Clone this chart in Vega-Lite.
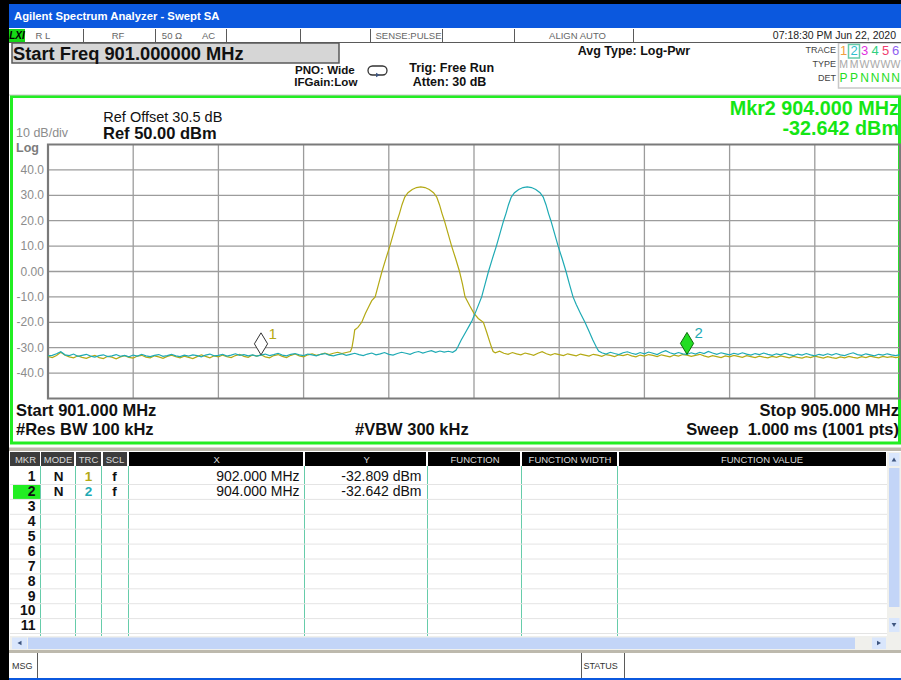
{
"$schema": "https://vega.github.io/schema/vega-lite/v6.json",
"width": 901, "height": 680,
"autosize": {"type": "none"},
"padding": 0,
"background": "#ffffff",
"config": {"view": {"stroke": null}, "text": {"font": "Liberation Sans"}},
"datasets": {
"trace1": [
{"f":901.00,"d":-33.4},{"f":901.02,"d":-33.9},{"f":901.04,"d":-33.1},{"f":901.06,"d":-31.8},{"f":901.08,"d":-33.0},{"f":901.10,"d":-33.6},{"f":901.12,"d":-34.0},{"f":901.14,"d":-33.2},{"f":901.16,"d":-33.8},{"f":901.18,"d":-34.2},
{"f":901.20,"d":-33.5},{"f":901.22,"d":-33.0},{"f":901.24,"d":-33.9},{"f":901.26,"d":-34.3},{"f":901.28,"d":-33.4},{"f":901.30,"d":-33.7},{"f":901.32,"d":-34.4},{"f":901.34,"d":-33.6},{"f":901.36,"d":-33.1},{"f":901.38,"d":-33.8},
{"f":901.40,"d":-34.1},{"f":901.42,"d":-33.3},{"f":901.44,"d":-33.0},{"f":901.46,"d":-33.7},{"f":901.48,"d":-34.0},{"f":901.50,"d":-33.2},{"f":901.52,"d":-33.6},{"f":901.54,"d":-34.2},{"f":901.56,"d":-33.4},{"f":901.58,"d":-32.9},
{"f":901.60,"d":-33.5},{"f":901.62,"d":-34.0},{"f":901.64,"d":-33.3},{"f":901.66,"d":-33.8},{"f":901.68,"d":-34.3},{"f":901.70,"d":-33.5},{"f":901.72,"d":-32.8},{"f":901.74,"d":-33.4},{"f":901.76,"d":-34.0},{"f":901.78,"d":-33.2},
{"f":901.80,"d":-33.6},{"f":901.82,"d":-32.9},{"f":901.84,"d":-33.5},{"f":901.86,"d":-33.9},{"f":901.88,"d":-33.1},{"f":901.90,"d":-32.6},{"f":901.92,"d":-33.4},{"f":901.94,"d":-33.8},{"f":901.96,"d":-32.9},{"f":901.98,"d":-33.3},
{"f":902.00,"d":-32.8},{"f":902.02,"d":-33.6},{"f":902.04,"d":-34.0},{"f":902.06,"d":-33.1},{"f":902.08,"d":-32.7},{"f":902.10,"d":-33.4},{"f":902.12,"d":-33.9},{"f":902.14,"d":-33.0},{"f":902.16,"d":-32.5},{"f":902.18,"d":-33.2},
{"f":902.20,"d":-33.6},{"f":902.22,"d":-32.8},{"f":902.24,"d":-32.4},{"f":902.26,"d":-33.0},{"f":902.28,"d":-32.6},{"f":902.30,"d":-32.1},{"f":902.32,"d":-32.7},{"f":902.34,"d":-32.2},{"f":902.36,"d":-31.8},{"f":902.38,"d":-32.3},
{"f":902.40,"d":-31.9},{"f":902.42,"d":-31.5},
{"f":902.427,"d":-30},{"f":902.435,"d":-26},{"f":902.44,"d":-23},{"f":902.455,"d":-22},{"f":902.473,"d":-20},{"f":902.49,"d":-16.5},{"f":902.505,"d":-14},{"f":902.52,"d":-11.5},{"f":902.536,"d":-10},{"f":902.552,"d":-5},
{"f":902.568,"d":0},{"f":902.586,"d":5},{"f":902.605,"d":10},{"f":902.622,"d":15},{"f":902.639,"d":20},{"f":902.65,"d":22.8},{"f":902.662,"d":26.3},{"f":902.675,"d":29.3},{"f":902.69,"d":31.0},{"f":902.71,"d":32.3},{"f":902.73,"d":33.05},
{"f":902.75,"d":33.3},{"f":902.77,"d":33.05},{"f":902.79,"d":32.3},{"f":902.81,"d":31.0},{"f":902.825,"d":29.3},{"f":902.838,"d":26.3},{"f":902.85,"d":22.8},{"f":902.861,"d":20},{"f":902.878,"d":15},{"f":902.895,"d":10},{"f":902.914,"d":5},
{"f":902.932,"d":0},{"f":902.946,"d":-5},{"f":902.958,"d":-10},{"f":902.98,"d":-13.5},{"f":903.0,"d":-16.5},{"f":903.02,"d":-18.5},{"f":903.044,"d":-20},{"f":903.06,"d":-24},{"f":903.075,"d":-28},{"f":903.083,"d":-30},
{"f":903.09,"d":-31.5},
{"f":903.10,"d":-32.0},{"f":903.12,"d":-31.4},{"f":903.14,"d":-32.2},{"f":903.16,"d":-32.6},{"f":903.18,"d":-31.9},{"f":903.20,"d":-32.4},{"f":903.22,"d":-32.8},{"f":903.24,"d":-32.1},{"f":903.26,"d":-32.5},{"f":903.28,"d":-33.0},
{"f":903.30,"d":-32.2},{"f":903.32,"d":-31.6},{"f":903.34,"d":-32.4},{"f":903.36,"d":-32.9},{"f":903.38,"d":-32.3},{"f":903.40,"d":-32.7},{"f":903.42,"d":-33.1},{"f":903.44,"d":-32.4},{"f":903.46,"d":-32.8},{"f":903.48,"d":-33.2},
{"f":903.50,"d":-32.5},{"f":903.52,"d":-32.9},{"f":903.54,"d":-33.3},{"f":903.56,"d":-32.6},{"f":903.58,"d":-32.9},{"f":903.60,"d":-33.4},{"f":903.62,"d":-32.7},{"f":903.64,"d":-33.0},{"f":903.66,"d":-33.5},{"f":903.68,"d":-32.8},
{"f":903.70,"d":-33.1},{"f":903.72,"d":-32.6},{"f":903.74,"d":-33.2},{"f":903.76,"d":-33.6},{"f":903.78,"d":-32.9},{"f":903.80,"d":-33.3},{"f":903.82,"d":-32.7},{"f":903.84,"d":-33.0},{"f":903.86,"d":-33.5},{"f":903.88,"d":-32.8},
{"f":903.90,"d":-33.2},{"f":903.92,"d":-33.6},{"f":903.94,"d":-32.9},{"f":903.96,"d":-33.3},{"f":903.98,"d":-32.7},{"f":904.00,"d":-32.9},{"f":904.02,"d":-33.4},{"f":904.04,"d":-33.0},{"f":904.06,"d":-32.6},{"f":904.08,"d":-33.2},
{"f":904.10,"d":-33.7},{"f":904.12,"d":-33.1},{"f":904.14,"d":-33.5},{"f":904.16,"d":-33.9},{"f":904.18,"d":-33.2},{"f":904.20,"d":-33.6},{"f":904.22,"d":-33.0},{"f":904.24,"d":-33.4},{"f":904.26,"d":-33.8},{"f":904.28,"d":-33.1},
{"f":904.30,"d":-33.5},{"f":904.32,"d":-33.9},{"f":904.34,"d":-33.3},{"f":904.36,"d":-33.7},{"f":904.38,"d":-34.0},{"f":904.40,"d":-33.4},{"f":904.42,"d":-33.8},{"f":904.44,"d":-33.2},{"f":904.46,"d":-33.6},{"f":904.48,"d":-34.0},
{"f":904.50,"d":-33.4},{"f":904.52,"d":-33.8},{"f":904.54,"d":-34.1},{"f":904.56,"d":-33.5},{"f":904.58,"d":-33.9},{"f":904.60,"d":-33.3},{"f":904.62,"d":-33.7},{"f":904.64,"d":-34.1},{"f":904.66,"d":-33.5},{"f":904.68,"d":-33.9},
{"f":904.70,"d":-34.2},{"f":904.72,"d":-33.6},{"f":904.74,"d":-34.0},{"f":904.76,"d":-33.4},{"f":904.78,"d":-33.8},{"f":904.80,"d":-34.1},{"f":904.82,"d":-33.5},{"f":904.84,"d":-33.9},{"f":904.86,"d":-33.3},{"f":904.88,"d":-33.7},
{"f":904.90,"d":-34.0},{"f":904.92,"d":-33.4},{"f":904.94,"d":-33.8},{"f":904.96,"d":-33.5},{"f":904.98,"d":-33.9},{"f":905.00,"d":-33.6}
],
"trace2": [
{"f":901.00,"d":-33.2},{"f":901.02,"d":-33.0},{"f":901.04,"d":-32.4},{"f":901.06,"d":-31.6},{"f":901.08,"d":-32.8},{"f":901.10,"d":-33.1},{"f":901.12,"d":-32.5},{"f":901.14,"d":-33.4},{"f":901.16,"d":-33.0},{"f":901.18,"d":-32.6},
{"f":901.20,"d":-33.3},{"f":901.22,"d":-33.7},{"f":901.24,"d":-33.1},{"f":901.26,"d":-32.8},{"f":901.28,"d":-33.5},{"f":901.30,"d":-33.2},{"f":901.32,"d":-32.7},{"f":901.34,"d":-33.4},{"f":901.36,"d":-33.0},{"f":901.38,"d":-33.6},
{"f":901.40,"d":-32.9},{"f":901.42,"d":-33.3},{"f":901.44,"d":-32.6},{"f":901.46,"d":-33.2},{"f":901.48,"d":-33.5},{"f":901.50,"d":-33.0},{"f":901.52,"d":-32.7},{"f":901.54,"d":-33.4},{"f":901.56,"d":-33.1},{"f":901.58,"d":-32.6},
{"f":901.60,"d":-33.2},{"f":901.62,"d":-33.5},{"f":901.64,"d":-32.9},{"f":901.66,"d":-33.3},{"f":901.68,"d":-32.8},{"f":901.70,"d":-33.1},{"f":901.72,"d":-33.6},{"f":901.74,"d":-32.9},{"f":901.76,"d":-32.5},{"f":901.78,"d":-33.2},
{"f":901.80,"d":-33.0},{"f":901.82,"d":-32.6},{"f":901.84,"d":-33.3},{"f":901.86,"d":-32.9},{"f":901.88,"d":-32.4},{"f":901.90,"d":-33.0},{"f":901.92,"d":-32.7},{"f":901.94,"d":-33.2},{"f":901.96,"d":-32.8},{"f":901.98,"d":-33.3},
{"f":902.00,"d":-32.9},{"f":902.02,"d":-32.5},{"f":902.04,"d":-33.1},{"f":902.06,"d":-32.7},{"f":902.08,"d":-32.2},{"f":902.10,"d":-32.9},{"f":902.12,"d":-33.2},{"f":902.14,"d":-32.6},{"f":902.16,"d":-32.3},{"f":902.18,"d":-32.8},
{"f":902.20,"d":-33.1},{"f":902.22,"d":-32.5},{"f":902.24,"d":-32.8},{"f":902.26,"d":-33.2},{"f":902.28,"d":-32.6},{"f":902.30,"d":-32.3},{"f":902.32,"d":-32.9},{"f":902.34,"d":-33.2},{"f":902.36,"d":-32.7},{"f":902.38,"d":-32.4},
{"f":902.40,"d":-33.0},{"f":902.42,"d":-32.6},{"f":902.44,"d":-32.2},{"f":902.46,"d":-32.7},{"f":902.48,"d":-33.1},{"f":902.50,"d":-32.5},{"f":902.52,"d":-32.1},{"f":902.54,"d":-32.8},{"f":902.56,"d":-32.4},{"f":902.58,"d":-31.9},
{"f":902.60,"d":-32.6},{"f":902.62,"d":-32.9},{"f":902.64,"d":-32.3},{"f":902.66,"d":-31.8},{"f":902.68,"d":-32.2},{"f":902.70,"d":-32.6},{"f":902.72,"d":-31.9},{"f":902.74,"d":-31.5},{"f":902.76,"d":-32.1},{"f":902.78,"d":-31.6},
{"f":902.80,"d":-31.2},{"f":902.82,"d":-31.8},{"f":902.84,"d":-31.3},{"f":902.86,"d":-31.7},{"f":902.88,"d":-31.4},{"f":902.90,"d":-31.8},{"f":902.915,"d":-31.0},
{"f":902.925,"d":-29.5},{"f":902.94,"d":-27},{"f":902.96,"d":-24},{"f":902.98,"d":-21},{"f":902.99,"d":-19.5},{"f":903.01,"d":-15.5},{"f":903.036,"d":-10},{"f":903.052,"d":-5},{"f":903.068,"d":0},{"f":903.086,"d":5},
{"f":903.105,"d":10},{"f":903.122,"d":15},{"f":903.139,"d":20},{"f":903.15,"d":22.8},{"f":903.162,"d":26.3},{"f":903.175,"d":29.3},{"f":903.19,"d":31.0},{"f":903.21,"d":32.3},{"f":903.23,"d":33.05},{"f":903.25,"d":33.3},{"f":903.27,"d":33.05},
{"f":903.29,"d":32.3},{"f":903.31,"d":31.0},{"f":903.325,"d":29.3},{"f":903.338,"d":26.3},{"f":903.35,"d":22.8},{"f":903.361,"d":20},{"f":903.378,"d":15},{"f":903.395,"d":10},{"f":903.414,"d":5},{"f":903.432,"d":0},{"f":903.448,"d":-5},
{"f":903.465,"d":-10},{"f":903.48,"d":-13},{"f":903.50,"d":-16.5},{"f":903.521,"d":-20},{"f":903.54,"d":-23.5},{"f":903.558,"d":-27},{"f":903.576,"d":-30},{"f":903.585,"d":-31.3},
{"f":903.60,"d":-32.0},{"f":903.62,"d":-32.5},{"f":903.64,"d":-31.8},{"f":903.66,"d":-32.3},{"f":903.68,"d":-32.7},{"f":903.70,"d":-32.0},{"f":903.72,"d":-31.6},{"f":903.74,"d":-32.2},{"f":903.76,"d":-32.6},{"f":903.78,"d":-31.9},
{"f":903.80,"d":-32.4},{"f":903.82,"d":-31.7},{"f":903.84,"d":-32.2},{"f":903.86,"d":-32.7},{"f":903.88,"d":-31.8},{"f":903.90,"d":-31.2},{"f":903.92,"d":-32.0},{"f":903.94,"d":-32.5},{"f":903.96,"d":-31.9},{"f":903.98,"d":-32.4},
{"f":904.00,"d":-32.6},{"f":904.02,"d":-32.0},{"f":904.04,"d":-32.5},{"f":904.06,"d":-31.8},{"f":904.08,"d":-32.3},{"f":904.10,"d":-31.5},{"f":904.12,"d":-32.1},{"f":904.14,"d":-32.6},{"f":904.16,"d":-32.0},{"f":904.18,"d":-32.4},
{"f":904.20,"d":-32.8},{"f":904.22,"d":-32.2},{"f":904.24,"d":-32.6},{"f":904.26,"d":-32.0},{"f":904.28,"d":-32.5},{"f":904.30,"d":-32.9},{"f":904.32,"d":-32.3},{"f":904.34,"d":-32.7},{"f":904.36,"d":-32.1},{"f":904.38,"d":-32.6},
{"f":904.40,"d":-33.0},{"f":904.42,"d":-32.4},{"f":904.44,"d":-32.8},{"f":904.46,"d":-32.2},{"f":904.48,"d":-32.7},{"f":904.50,"d":-33.1},{"f":904.52,"d":-32.5},{"f":904.54,"d":-32.9},{"f":904.56,"d":-32.3},{"f":904.58,"d":-32.8},
{"f":904.60,"d":-33.2},{"f":904.62,"d":-32.6},{"f":904.64,"d":-33.0},{"f":904.66,"d":-32.4},{"f":904.68,"d":-32.9},{"f":904.70,"d":-32.3},{"f":904.72,"d":-32.8},{"f":904.74,"d":-33.1},{"f":904.76,"d":-32.5},{"f":904.78,"d":-32.0},
{"f":904.80,"d":-32.7},{"f":904.82,"d":-33.0},{"f":904.84,"d":-32.4},{"f":904.86,"d":-32.8},{"f":904.88,"d":-33.2},{"f":904.90,"d":-32.6},{"f":904.92,"d":-32.9},{"f":904.94,"d":-32.4},{"f":904.96,"d":-32.8},{"f":904.98,"d":-33.1},{"f":905.00,"d":-32.7}
],
"markers": [
{"mkr":"1","trc":"1","f":902.0,"d":-32.809},
{"mkr":"2","trc":"2","f":904.0,"d":-32.642}
],
"table": [
{"mkr":1,"mode":"N","trc":"1","scl":"f","xval":"902.000 MHz","yval":"-32.809 dBm"},
{"mkr":2,"mode":"N","trc":"2","scl":"f","xval":"904.000 MHz","yval":"-32.642 dBm"},
{"mkr":3},{"mkr":4},{"mkr":5},{"mkr":6},{"mkr":7},{"mkr":8},{"mkr":9},{"mkr":10},{"mkr":11}
],
"boxes": [
{"part":"frame","x0":0,"x1":9,"y0":0,"y1":680},
{"part":"frame","x0":0,"x1":901,"y0":0,"y1":4},
{"part":"title","x0":9,"x1":901,"y0":4,"y1":28},
{"part":"lxi","x0":9,"x1":25,"y0":29,"y1":42},
{"part":"field","x0":12,"x1":339,"y0":43,"y1":63},
{"part":"sep","x0":9,"x1":901,"y0":447.5,"y1":451},
{"part":"head","x0":10,"x1":40,"y0":452,"y1":466},
{"part":"head","x0":41,"x1":74,"y0":452,"y1":466},
{"part":"head","x0":76,"x1":101,"y0":452,"y1":466},
{"part":"head","x0":103,"x1":127,"y0":452,"y1":466},
{"part":"black","x0":129,"x1":303,"y0":452,"y1":466},
{"part":"black","x0":305,"x1":426,"y0":452,"y1":466},
{"part":"black","x0":428,"x1":520,"y0":452,"y1":466},
{"part":"black","x0":522,"x1":617,"y0":452,"y1":466},
{"part":"black","x0":619,"x1":886,"y0":452,"y1":466},
{"part":"active","x0":13,"x1":40,"y0":485,"y1":499},
{"part":"track","x0":10,"x1":887,"y0":636,"y1":650},
{"part":"track","x0":887,"x1":901,"y0":452,"y1":650},
{"part":"thumb","x0":28,"x1":855,"y0":637.5,"y1":649},
{"part":"thumb","x0":889,"x1":899.5,"y0":468,"y1":607},
{"part":"button","x0":12,"x1":27,"y0":637.5,"y1":649},
{"part":"button","x0":872,"x1":886,"y0":637.5,"y1":649},
{"part":"button","x0":889,"x1":899.5,"y0":453,"y1":466},
{"part":"button","x0":889,"x1":899.5,"y0":618,"y1":632},
{"part":"sep","x0":9,"x1":901,"y0":650,"y1":653},
{"part":"title","x0":9,"x1":901,"y0":678,"y1":680}
],
"outlines": [
{"part":"field","x0":12,"x1":339,"y0":43,"y1":63},
{"part":"legend","x0":838.5,"x1":905,"y0":43,"y1":88},
{"part":"sel","x0":848.5,"x1":859.5,"y0":44.5,"y1":58}
],
"lines": [
{"part":"status","x0":83.5,"x1":83.5,"y0":29,"y1":42},
{"part":"status","x0":155.5,"x1":155.5,"y0":29,"y1":42},
{"part":"status","x0":226.5,"x1":226.5,"y0":29,"y1":42},
{"part":"status","x0":300.5,"x1":300.5,"y0":29,"y1":42},
{"part":"status","x0":370.5,"x1":370.5,"y0":29,"y1":42},
{"part":"status","x0":442.5,"x1":442.5,"y0":29,"y1":42},
{"part":"status","x0":514.5,"x1":514.5,"y0":29,"y1":42},
{"part":"status","x0":633.5,"x1":633.5,"y0":29,"y1":42},
{"part":"status","x0":9,"x1":901,"y0":42.5,"y1":42.5},
{"part":"hdr","x0":9,"x1":901,"y0":95,"y1":95},
{"part":"col","x0":40.5,"x1":40.5,"y0":466,"y1":636},
{"part":"col","x0":75.5,"x1":75.5,"y0":466,"y1":636},
{"part":"col","x0":101.5,"x1":101.5,"y0":466,"y1":636},
{"part":"col","x0":128.5,"x1":128.5,"y0":466,"y1":636},
{"part":"col","x0":304.5,"x1":304.5,"y0":466,"y1":636},
{"part":"col","x0":427.5,"x1":427.5,"y0":466,"y1":636},
{"part":"col","x0":521.5,"x1":521.5,"y0":466,"y1":636},
{"part":"col","x0":617.5,"x1":617.5,"y0":466,"y1":636},
{"part":"msg","x0":37.5,"x1":37.5,"y0":653,"y1":678},
{"part":"msg","x0":581.5,"x1":581.5,"y0":653,"y1":678},
{"part":"msg","x0":624.5,"x1":624.5,"y0":653,"y1":678}
]
},
"layer": [
{
"layer": [
{"data": {"name": "boxes"}, "mark": {"type": "rect"},
 "encoding": {
  "x": {"field": "x0", "type": "quantitative", "scale": {"domain": [0, 901], "nice": false, "zero": false}, "axis": null},
  "x2": {"field": "x1"},
  "y": {"field": "y0", "type": "quantitative", "scale": {"domain": [0, 680], "nice": false, "zero": false, "reverse": true}, "axis": null},
  "y2": {"field": "y1"},
  "color": {"field": "part", "type": "nominal", "legend": null,
   "scale": {"domain": ["frame","title","lxi","field","sep","head","black","active","track","thumb","button"],
             "range": ["#000000","#0b58de","#16d816","#d6d6d6","#bdb9ad","#3c3c3c","#000000","#22ee22","#f0f0ec","#c3d5f7","#d9e6fc"]}}
 }},
{"data": {"name": "outlines"}, "mark": {"type": "rect", "filled": false, "strokeWidth": 1.5},
 "encoding": {
  "x": {"field": "x0", "type": "quantitative"}, "x2": {"field": "x1"},
  "y": {"field": "y0", "type": "quantitative"}, "y2": {"field": "y1"},
  "stroke": {"field": "part", "type": "nominal", "legend": null,
   "scale": {"domain": ["field","legend","sel"], "range": ["#5a5a5a","#c8c8c8","#66ccaa"]}}
 }},
{"data": {"values": [{"x0": 11.5, "x1": 899.5, "y0": 96.5, "y1": 443}]},
 "mark": {"type": "rect", "filled": false, "stroke": "#22ee22", "strokeWidth": 3},
 "encoding": {"x": {"field": "x0", "type": "quantitative"}, "x2": {"field": "x1"}, "y": {"field": "y0", "type": "quantitative"}, "y2": {"field": "y1"}}},
{"data": {"values": [{"x0": 368, "x1": 387, "y0": 66, "y1": 75}]},
 "mark": {"type": "rect", "filled": false, "stroke": "#333333", "strokeWidth": 1.3, "cornerRadius": 4.5},
 "encoding": {"x": {"field": "x0", "type": "quantitative"}, "x2": {"field": "x1"}, "y": {"field": "y0", "type": "quantitative"}, "y2": {"field": "y1"}}},
{"data": {"name": "lines"}, "mark": {"type": "rule", "strokeWidth": 1},
 "encoding": {
  "x": {"field": "x0", "type": "quantitative"}, "x2": {"field": "x1"},
  "y": {"field": "y0", "type": "quantitative"}, "y2": {"field": "y1"},
  "stroke": {"field": "part", "type": "nominal", "legend": null,
   "scale": {"domain": ["status","hdr","col","msg"], "range": ["#b0b0b0","#8c8c8c","#e2e2e2","#a8a8a8"]}}
 }},
{"data": {"values": [{"dir": "left", "sx": 19.5, "sy": 643}, {"dir": "right", "sx": 879, "sy": 643}, {"dir": "up", "sx": 894, "sy": 459.5}, {"dir": "down", "sx": 894, "sy": 625}, {"dir": "right", "sx": 378, "sy": 75}]},
 "mark": {"type": "point", "filled": true, "size": 22, "color": "#3f5680", "opacity": 1},
 "encoding": {"x": {"field": "sx", "type": "quantitative"}, "y": {"field": "sy", "type": "quantitative"},
  "shape": {"field": "dir", "type": "nominal", "legend": null, "scale": {"domain": ["left","right","up","down"], "range": ["triangle-left","triangle-right","triangle-up","triangle-down"]}}}},
{"data": {"values": [{"t": "Agilent Spectrum Analyzer - Swept SA", "sx": 14, "sy": 16.5}]},
 "mark": {"type": "text", "align": "left", "baseline": "middle", "fontSize": 11.3, "fontWeight": "bold", "color": "#ffffff"},
 "encoding": {"x": {"field": "sx", "type": "quantitative"}, "y": {"field": "sy", "type": "quantitative"}, "text": {"field": "t"}}},
{"data": {"values": [{"t": "R L", "sx": 43, "sy": 35.5}, {"t": "RF", "sx": 118, "sy": 35.5}, {"t": "50 Ω", "sx": 172, "sy": 35.5}, {"t": "AC", "sx": 208.5, "sy": 35.5}, {"t": "SENSE:PULSE", "sx": 408.5, "sy": 35.5}, {"t": "ALIGN AUTO", "sx": 577.5, "sy": 35.5}]},
 "mark": {"type": "text", "align": "center", "baseline": "middle", "fontSize": 9.5, "color": "#666666"},
 "encoding": {"x": {"field": "sx", "type": "quantitative"}, "y": {"field": "sy", "type": "quantitative"}, "text": {"field": "t"}}},
{"data": {"values": [{"t": "07:18:30 PM Jun 22, 2020", "sx": 896, "sy": 35.5}]},
 "mark": {"type": "text", "align": "right", "baseline": "middle", "fontSize": 10.5, "color": "#222222"},
 "encoding": {"x": {"field": "sx", "type": "quantitative"}, "y": {"field": "sy", "type": "quantitative"}, "text": {"field": "t"}}},
{"data": {"values": [{"t": "LXI", "sx": 17, "sy": 35.5}]},
 "mark": {"type": "text", "align": "center", "baseline": "middle", "fontSize": 10, "fontWeight": "bold", "fontStyle": "italic", "color": "#000000"},
 "encoding": {"x": {"field": "sx", "type": "quantitative"}, "y": {"field": "sy", "type": "quantitative"}, "text": {"field": "t"}}},
{"data": {"values": [{"t": "Start Freq 901.000000 MHz", "sx": 13, "sy": 54.7}]},
 "mark": {"type": "text", "align": "left", "baseline": "middle", "fontSize": 18.3, "fontWeight": "bold", "color": "#111111"},
 "encoding": {"x": {"field": "sx", "type": "quantitative"}, "y": {"field": "sy", "type": "quantitative"}, "text": {"field": "t"}}},
{"data": {"values": [{"t": "PNO: Wide", "sx": 295, "sy": 70.8}, {"t": "IFGain:Low", "sx": 294.3, "sy": 83.2}]},
 "mark": {"type": "text", "align": "left", "baseline": "middle", "fontSize": 11.6, "fontWeight": "bold", "color": "#111111"},
 "encoding": {"x": {"field": "sx", "type": "quantitative"}, "y": {"field": "sy", "type": "quantitative"}, "text": {"field": "t"}}},
{"data": {"values": [{"t": "Trig: Free Run", "sx": 409.3, "sy": 67.5}, {"t": "Atten: 30 dB", "sx": 412.7, "sy": 81.7}, {"t": "Avg Type: Log-Pwr", "sx": 577.7, "sy": 50.8}]},
 "mark": {"type": "text", "align": "left", "baseline": "middle", "fontSize": 12.5, "fontWeight": "bold", "color": "#111111"},
 "encoding": {"x": {"field": "sx", "type": "quantitative"}, "y": {"field": "sy", "type": "quantitative"}, "text": {"field": "t"}}},
{"data": {"values": [{"t": "TRACE", "sx": 836, "sy": 50}, {"t": "TYPE", "sx": 836, "sy": 64}, {"t": "DET", "sx": 836, "sy": 78}]},
 "mark": {"type": "text", "align": "right", "baseline": "middle", "fontSize": 9, "color": "#444444"},
 "encoding": {"x": {"field": "sx", "type": "quantitative"}, "y": {"field": "sy", "type": "quantitative"}, "text": {"field": "t"}}},
{"data": {"values": [{"trace": "1", "sx": 843.5, "sy": 51}, {"trace": "2", "sx": 854, "sy": 51}, {"trace": "3", "sx": 864.5, "sy": 51}, {"trace": "4", "sx": 875, "sy": 51}, {"trace": "5", "sx": 885.5, "sy": 51}, {"trace": "6", "sx": 895.5, "sy": 51}]},
 "mark": {"type": "text", "align": "center", "baseline": "middle", "fontSize": 13},
 "encoding": {"x": {"field": "sx", "type": "quantitative"}, "y": {"field": "sy", "type": "quantitative"}, "text": {"field": "trace"},
  "fill": {"field": "trace", "type": "nominal", "legend": null, "scale": {"domain": ["1","2","3","4","5","6"], "range": ["#f0a040","#30c0d0","#e030e0","#30d080","#f04070","#9060f0"]}}}},
{"data": {"values": [{"t": "M", "sx": 843.5, "sy": 64.5}, {"t": "M", "sx": 854, "sy": 64.5}, {"t": "W", "sx": 864.5, "sy": 64.5}, {"t": "W", "sx": 875, "sy": 64.5}, {"t": "W", "sx": 885.5, "sy": 64.5}, {"t": "W", "sx": 895.5, "sy": 64.5}]},
 "mark": {"type": "text", "align": "center", "baseline": "middle", "fontSize": 10.5, "color": "#a8a8a8"},
 "encoding": {"x": {"field": "sx", "type": "quantitative"}, "y": {"field": "sy", "type": "quantitative"}, "text": {"field": "t"}}},
{"data": {"values": [{"t": "P", "sx": 843.5, "sy": 78}, {"t": "P", "sx": 854, "sy": 78}, {"t": "N", "sx": 864.5, "sy": 78}, {"t": "N", "sx": 875, "sy": 78}, {"t": "N", "sx": 885.5, "sy": 78}, {"t": "N", "sx": 895.5, "sy": 78}]},
 "mark": {"type": "text", "align": "center", "baseline": "middle", "fontSize": 12, "color": "#22dd22"},
 "encoding": {"x": {"field": "sx", "type": "quantitative"}, "y": {"field": "sy", "type": "quantitative"}, "text": {"field": "t"}}},
{"data": {"values": [{"t": "Ref Offset 30.5 dB", "sx": 103.3, "sy": 118.3}]},
 "mark": {"type": "text", "align": "left", "baseline": "middle", "fontSize": 14.5, "color": "#111111"},
 "encoding": {"x": {"field": "sx", "type": "quantitative"}, "y": {"field": "sy", "type": "quantitative"}, "text": {"field": "t"}}},
{"data": {"values": [{"t": "Ref 50.00 dBm", "sx": 103, "sy": 133.8}]},
 "mark": {"type": "text", "align": "left", "baseline": "middle", "fontSize": 16.5, "fontWeight": "bold", "color": "#111111"},
 "encoding": {"x": {"field": "sx", "type": "quantitative"}, "y": {"field": "sy", "type": "quantitative"}, "text": {"field": "t"}}},
{"data": {"values": [{"t": "10 dB/div", "sx": 16, "sy": 133.3}]},
 "mark": {"type": "text", "align": "left", "baseline": "middle", "fontSize": 12.5, "color": "#8c8c8c"},
 "encoding": {"x": {"field": "sx", "type": "quantitative"}, "y": {"field": "sy", "type": "quantitative"}, "text": {"field": "t"}}},
{"data": {"values": [{"t": "Log", "sx": 16, "sy": 147.8}]},
 "mark": {"type": "text", "align": "left", "baseline": "middle", "fontSize": 12.5, "fontWeight": "bold", "color": "#7c7c7c"},
 "encoding": {"x": {"field": "sx", "type": "quantitative"}, "y": {"field": "sy", "type": "quantitative"}, "text": {"field": "t"}}},
{"data": {"values": [{"t": "Mkr2 904.000 MHz", "sx": 899, "sy": 108.6}, {"t": "-32.642 dBm", "sx": 899, "sy": 128.9}]},
 "mark": {"type": "text", "align": "right", "baseline": "middle", "fontSize": 19.8, "fontWeight": "bold", "color": "#14e614"},
 "encoding": {"x": {"field": "sx", "type": "quantitative"}, "y": {"field": "sy", "type": "quantitative"}, "text": {"field": "t"}}},
{"data": {"values": [{"t": "Start 901.000 MHz", "sx": 16, "sy": 411.2}, {"t": "#Res BW 100 kHz", "sx": 16, "sy": 430}, {"t": "#VBW 300 kHz", "sx": 355, "sy": 430}]},
 "mark": {"type": "text", "align": "left", "baseline": "middle", "fontSize": 16.5, "fontWeight": "bold", "color": "#111111"},
 "encoding": {"x": {"field": "sx", "type": "quantitative"}, "y": {"field": "sy", "type": "quantitative"}, "text": {"field": "t"}}},
{"data": {"values": [{"t": "Stop 905.000 MHz", "sx": 899, "sy": 411.2}, {"t": "Sweep\u00a0\u00a01.000 ms (1001 pts)", "sx": 899, "sy": 430}]},
 "mark": {"type": "text", "align": "right", "baseline": "middle", "fontSize": 16.5, "fontWeight": "bold", "color": "#111111"},
 "encoding": {"x": {"field": "sx", "type": "quantitative"}, "y": {"field": "sy", "type": "quantitative"}, "text": {"field": "t"}}},
{"data": {"values": [{"t": "MKR", "sx": 25.5, "sy": 459.5}, {"t": "MODE", "sx": 58, "sy": 459.5}, {"t": "TRC", "sx": 88.5, "sy": 459.5}, {"t": "SCL", "sx": 115, "sy": 459.5}, {"t": "X", "sx": 216.7, "sy": 459.5}, {"t": "Y", "sx": 366.7, "sy": 459.5}, {"t": "FUNCTION", "sx": 475, "sy": 459.5}, {"t": "FUNCTION WIDTH", "sx": 570, "sy": 459.5}, {"t": "FUNCTION VALUE", "sx": 762, "sy": 459.5}]},
 "mark": {"type": "text", "align": "center", "baseline": "middle", "fontSize": 9.5, "color": "#dcdcdc"},
 "encoding": {"x": {"field": "sx", "type": "quantitative"}, "y": {"field": "sy", "type": "quantitative"}, "text": {"field": "t"}}},
{"data": {"values": [{"t": "MSG", "sx": 12, "sy": 665.5}, {"t": "STATUS", "sx": 583.5, "sy": 665.5}]},
 "mark": {"type": "text", "align": "left", "baseline": "middle", "fontSize": 9, "color": "#333333"},
 "encoding": {"x": {"field": "sx", "type": "quantitative"}, "y": {"field": "sy", "type": "quantitative"}, "text": {"field": "t"}}}
]
},
{
"data": {"name": "table"},
"layer": [
{"mark": {"type": "rule", "stroke": "#e4e4e4", "strokeWidth": 1, "yOffset": 7.2},
 "encoding": {
  "x": {"datum": 10, "type": "quantitative", "scale": {"domain": [0, 901], "nice": false, "zero": false}, "axis": null},
  "x2": {"datum": 887},
  "y": {"field": "mkr", "type": "quantitative", "scale": {"domain": [-31.034, 14.604], "nice": false, "zero": false, "reverse": true}, "axis": null}
 }},
{"mark": {"type": "text", "align": "right", "baseline": "middle", "fontSize": 14, "fontWeight": "bold", "color": "#111111"},
 "encoding": {"x": {"datum": 35.5, "type": "quantitative"}, "y": {"field": "mkr", "type": "quantitative"}, "text": {"field": "mkr", "type": "quantitative"}}},
{"transform": [{"filter": "isValid(datum.mode)"}],
 "mark": {"type": "text", "align": "center", "baseline": "middle", "fontSize": 13.5, "fontWeight": "bold", "color": "#111111"},
 "encoding": {"x": {"datum": 58.5, "type": "quantitative"}, "y": {"field": "mkr", "type": "quantitative"}, "text": {"field": "mode"}}},
{"transform": [{"filter": "isValid(datum.trc)"}],
 "mark": {"type": "text", "align": "center", "baseline": "middle", "fontSize": 13.5, "fontWeight": "bold"},
 "encoding": {"x": {"datum": 88.5, "type": "quantitative"}, "y": {"field": "mkr", "type": "quantitative"}, "text": {"field": "trc"},
  "color": {"field": "trc", "type": "nominal", "legend": null, "scale": {"domain": ["1","2"], "range": ["#b4a914","#1eaab4"]}}}},
{"transform": [{"filter": "isValid(datum.scl)"}],
 "mark": {"type": "text", "align": "center", "baseline": "middle", "fontSize": 13.5, "fontWeight": "bold", "color": "#111111"},
 "encoding": {"x": {"datum": 114.5, "type": "quantitative"}, "y": {"field": "mkr", "type": "quantitative"}, "text": {"field": "scl"}}},
{"transform": [{"filter": "isValid(datum.xval)"}],
 "mark": {"type": "text", "align": "right", "baseline": "middle", "fontSize": 14, "color": "#111111"},
 "encoding": {"x": {"datum": 299.5, "type": "quantitative"}, "y": {"field": "mkr", "type": "quantitative"}, "text": {"field": "xval"}}},
{"transform": [{"filter": "isValid(datum.yval)"}],
 "mark": {"type": "text", "align": "right", "baseline": "middle", "fontSize": 14, "color": "#111111"},
 "encoding": {"x": {"datum": 421.5, "type": "quantitative"}, "y": {"field": "mkr", "type": "quantitative"}, "text": {"field": "yval"}}}
]
},
{
"layer": [
{"data": {"values": [{"f": 901.4}, {"f": 901.8}, {"f": 902.2}, {"f": 902.6}, {"f": 903.0}, {"f": 903.4}, {"f": 903.8}, {"f": 904.2}, {"f": 904.6}]},
 "mark": {"type": "rule", "stroke": "#9c9c9c", "strokeWidth": 1.3},
 "encoding": {
  "x": {"field": "f", "type": "quantitative", "scale": {"domain": [900.774648, 905.004695], "nice": false, "zero": false}, "axis": null},
  "y": {"datum": -50, "type": "quantitative", "scale": {"domain": [-160.827, 106.890], "nice": false, "zero": false}, "axis": null},
  "y2": {"datum": 50}
 }},
{"data": {"values": [{"d": -40}, {"d": -30}, {"d": -20}, {"d": -10}, {"d": 0}, {"d": 10}, {"d": 20}, {"d": 30}, {"d": 40}]},
 "mark": {"type": "rule", "stroke": "#9c9c9c", "strokeWidth": 1.3},
 "encoding": {"x": {"datum": 901, "type": "quantitative"}, "x2": {"datum": 905}, "y": {"field": "d", "type": "quantitative"}}},
{"data": {"values": [{}]},
 "mark": {"type": "rect", "filled": false, "stroke": "#7a7a7a", "strokeWidth": 2.2},
 "encoding": {"x": {"datum": 901, "type": "quantitative"}, "x2": {"datum": 905}, "y": {"datum": -50, "type": "quantitative"}, "y2": {"datum": 50}}},
{"data": {"name": "trace1"},
 "mark": {"type": "line", "stroke": "#b4a914", "strokeWidth": 1.2},
 "encoding": {"x": {"field": "f", "type": "quantitative"}, "y": {"field": "d", "type": "quantitative"}}},
{"data": {"name": "trace2"},
 "mark": {"type": "line", "stroke": "#1eaab4", "strokeWidth": 1.2},
 "encoding": {"x": {"field": "f", "type": "quantitative"}, "y": {"field": "d", "type": "quantitative"}}},
{"data": {"name": "markers"},
 "mark": {"type": "point", "shape": "M0,-2L0.6,-1L0,0L-0.6,-1Z", "size": 484, "filled": true, "opacity": 1, "strokeWidth": 1},
 "encoding": {"x": {"field": "f", "type": "quantitative"}, "y": {"field": "d", "type": "quantitative"},
  "fill": {"field": "mkr", "type": "nominal", "legend": null, "scale": {"domain": ["1","2"], "range": ["#ffffff","#22dd22"]}},
  "stroke": {"field": "mkr", "type": "nominal", "legend": null, "scale": {"domain": ["1","2"], "range": ["#333333","#0a6a0a"]}}}},
{"data": {"name": "markers"},
 "mark": {"type": "text", "align": "left", "baseline": "middle", "fontSize": 15, "dx": 7.5, "dy": -21},
 "encoding": {"x": {"field": "f", "type": "quantitative"}, "y": {"field": "d", "type": "quantitative"}, "text": {"field": "mkr"},
  "color": {"field": "trc", "type": "nominal", "legend": null, "scale": {"domain": ["1","2"], "range": ["#b4a914","#1eaab4"]}}}},
{"data": {"values": [{"d": 40, "lab": "40.0"}, {"d": 30, "lab": "30.0"}, {"d": 20, "lab": "20.0"}, {"d": 10, "lab": "10.0"}, {"d": 0, "lab": "0.00"}, {"d": -10, "lab": "-10.0"}, {"d": -20, "lab": "-20.0"}, {"d": -30, "lab": "-30.0"}, {"d": -40, "lab": "-40.0"}]},
 "mark": {"type": "text", "align": "right", "baseline": "middle", "fontSize": 12, "color": "#8c8c8c"},
 "encoding": {"x": {"datum": 900.981, "type": "quantitative"}, "y": {"field": "d", "type": "quantitative"}, "text": {"field": "lab"}}}
]
}
],
"resolve": {"scale": {"x": "independent", "y": "independent", "color": "independent", "fill": "independent", "stroke": "independent", "shape": "independent"}}
}
